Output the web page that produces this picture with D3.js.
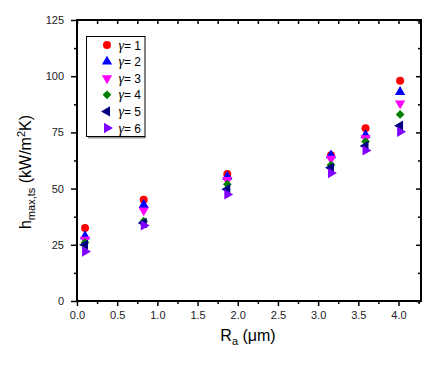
<!DOCTYPE html>
<html><head><meta charset="utf-8">
<script src="https://cdn.jsdelivr.net/npm/d3@7"></script>
<style>body{margin:0;background:#fff;} svg{display:block;}</style>
</head><body>
<svg id="c" width="437" height="369"></svg>
<script>
const xValues = [0.10, 0.83, 1.87, 3.16, 3.59, 4.02];
const gamma1 = [32.5, 45.0, 56.5, 64.8, 76.8, 98.0];
const gamma2 = [28.8, 42.7, 55.3, 64.8, 73.8, 93.0];
const gamma3 = [27.3, 40.3, 53.8, 63.3, 72.4, 87.9];
const gamma4 = [26.0, 35.5, 51.9, 60.5, 70.9, 83.0];
const gamma5 = [25.0, 34.7, 49.7, 59.3, 69.0, 78.0];
const gamma6 = [22.0, 33.6, 47.4, 56.9, 67.0, 75.3];
const seriesNames = ["1", "2", "3", "4", "5", "6"];
const xTicks = [0, 0.5, 1.0, 1.5, 2.0, 2.5, 3.0, 3.5, 4.0];
const yTicks = [0, 25, 50, 75, 100, 125];

const series = [gamma1, gamma2, gamma3, gamma4, gamma5, gamma6];
const colors = ["#ff0000", "#0000ff", "#ff00ff", "#008000", "#000080", "#8000ff"];
const shapes = [
  {type: d3.symbolCircle, size: 50, rot: 0},
  {type: d3.symbolTriangle, size: 46, rot: 0},
  {type: d3.symbolTriangle, size: 46, rot: 180},
  {type: d3.symbolSquare, size: 38, rot: 45},
  {type: d3.symbolTriangle, size: 46, rot: -90},
  {type: d3.symbolTriangle, size: 46, rot: 90}
];

const L = 77, R = 421, T = 20, B = 301;
const x = d3.scaleLinear().domain([0, 4.28]).range([L, R]);
const y = d3.scaleLinear().domain([0, 125]).range([B, T]);
const svg = d3.select("#c");
const font = "Arial, 'Liberation Sans', sans-serif";

const xMinor = d3.range(0.25, 4.28, 0.5);
const yMinor = d3.range(12.5, 125, 25);

// bottom axis
const bx = svg.append("g").attr("transform", `translate(0,${B})`)
  .call(d3.axisBottom(x).tickValues(xTicks).tickFormat(d3.format(".1f")).tickSize(5).tickSizeOuter(0));
bx.select(".domain").remove();
bx.selectAll("text").attr("font-family", font).attr("font-size", 11).attr("fill", "#222").attr("dy", "0.9em");
bx.selectAll("line").attr("stroke-width", 1.5);
svg.append("g").attr("transform", `translate(0,${B})`)
  .call(d3.axisBottom(x).tickValues(xMinor).tickFormat("").tickSize(3).tickSizeOuter(0))
  .call(g => g.select(".domain").remove())
  .selectAll("line").attr("stroke-width", 1.5);

// left axis
const ly = svg.append("g").attr("transform", `translate(${L},0)`)
  .call(d3.axisLeft(y).tickValues(yTicks).tickSize(6).tickPadding(7).tickSizeOuter(0));
ly.select(".domain").remove();
ly.selectAll("text").attr("font-family", font).attr("font-size", 11).attr("fill", "#222");
ly.selectAll("line").attr("stroke-width", 1.5);
svg.append("g").attr("transform", `translate(${L},0)`)
  .call(d3.axisLeft(y).tickValues(yMinor).tickFormat("").tickSize(3).tickSizeOuter(0))
  .call(g => g.select(".domain").remove())
  .selectAll("line").attr("stroke-width", 1.5);

// top axis (inward)
svg.append("g").attr("transform", `translate(0,${T})`)
  .call(d3.axisTop(x).tickValues(xTicks.concat(xMinor)).tickFormat("").tickSize(-4).tickSizeOuter(0))
  .call(g => g.select(".domain").remove())
  .selectAll("line").attr("stroke-width", 1.5);
// right axis (inward)
svg.append("g").attr("transform", `translate(${R},0)`)
  .call(d3.axisRight(y).tickValues(yTicks).tickFormat("").tickSize(-5).tickSizeOuter(0))
  .call(g => g.select(".domain").remove())
  .selectAll("line").attr("stroke-width", 1.5);
svg.append("g").attr("transform", `translate(${R},0)`)
  .call(d3.axisRight(y).tickValues(yMinor).tickFormat("").tickSize(-3).tickSizeOuter(0))
  .call(g => g.select(".domain").remove())
  .selectAll("line").attr("stroke-width", 1.5);

// frame
svg.append("rect").attr("x", L).attr("y", T).attr("width", R - L).attr("height", B - T)
  .attr("fill", "none").attr("stroke", "#000").attr("stroke-width", 2);

// points
series.forEach((vals, i) => {
  const sym = d3.symbol().type(shapes[i].type).size(shapes[i].size);
  svg.append("g").selectAll("path").data(vals).join("path")
    .attr("d", sym)
    .attr("transform", (d, j) => `translate(${x(xValues[j])},${y(d)}) rotate(${shapes[i].rot})`)
    .attr("fill", colors[i]);
});

// legend
const lg = svg.append("g");
lg.append("line").attr("x1", 88).attr("x2", 146).attr("y1", 137.5).attr("y2", 137.5).attr("stroke", "#999").attr("stroke-width", 2);
lg.append("rect").attr("x", 86.5).attr("y", 36.5).attr("width", 58.5).attr("height", 100)
  .attr("fill", "#fff").attr("stroke", "#000").attr("stroke-width", 1);
seriesNames.forEach((n, i) => {
  const yy = 45 + i * 16.6;
  const sym = d3.symbol().type(shapes[i].type).size(shapes[i].size);
  lg.append("path").attr("d", sym).attr("transform", `translate(107,${yy}) rotate(${shapes[i].rot})`).attr("fill", colors[i]);
  const t = lg.append("text").attr("x", 118.5).attr("y", yy + 4.5).attr("font-family", font).attr("font-size", 12).attr("fill", "#000");
  t.append("tspan").attr("font-family", "'Liberation Serif', 'Times New Roman', serif").attr("font-style", "italic").attr("font-size", 14).text("γ");
  t.append("tspan").text("= " + n);
});

// axis titles
const xt = svg.append("text").attr("x", 248).attr("y", 341).attr("text-anchor", "middle")
  .attr("font-family", font).attr("font-size", 16).attr("fill", "#000");
xt.append("tspan").text("R");
xt.append("tspan").attr("font-size", 11).attr("dy", 4).text("a");
xt.append("tspan").attr("dy", -4).text(" (μm)");

const yt = svg.append("text").attr("transform", "translate(31,172) rotate(-90)").attr("text-anchor", "middle")
  .attr("font-family", font).attr("font-size", 16).attr("fill", "#000");
yt.append("tspan").text("h");
yt.append("tspan").attr("font-size", 11).attr("dy", 4).text("max,ts");
yt.append("tspan").attr("dy", -4).text(" (kW/m");
yt.append("tspan").attr("font-size", 11).attr("dy", -6).text("2");
yt.append("tspan").attr("dy", 6).text("K)");
</script>
</body></html>
